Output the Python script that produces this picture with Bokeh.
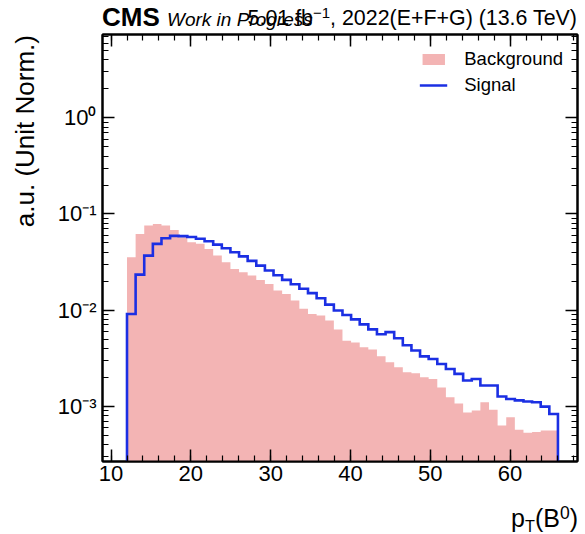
from bokeh.plotting import figure
from bokeh.models import (LinearAxis, LogAxis, SingleIntervalTicker, FixedTicker,
                          CustomJSTickFormatter, Range1d, Div)
from bokeh.layouts import column, row
from bokeh.embed import file_html
from bokeh.resources import INLINE

# ---------------- data ----------------
bin_lo = 12.0
bin_hi = 66.0
n_bins = 50

background = [0.0354, 0.0620, 0.0758, 0.0788, 0.0758, 0.0683, 0.0573, 0.0508, 0.0489, 0.0433,
              0.0369, 0.0314, 0.0268, 0.0247, 0.0229, 0.0206, 0.0187, 0.0160, 0.0147, 0.0126,
              0.0103, 0.0091, 0.0088, 0.0078, 0.0063, 0.0048, 0.0046, 0.0041, 0.0039, 0.0033,
              0.00286, 0.00254, 0.00225, 0.00220, 0.00200, 0.00192, 0.00157, 0.00124, 0.00107, 0.00086,
              0.00090, 0.00110, 0.00092, 0.00063, 0.00077, 0.00057, 0.00053, 0.00054, 0.00056, 0.00056]

signal = [0.0091, 0.0234, 0.0369, 0.0489, 0.0559, 0.0592, 0.0588, 0.0575, 0.0552, 0.0520,
          0.0480, 0.0440, 0.0400, 0.0362, 0.0325, 0.0290, 0.0258, 0.0230, 0.0206, 0.0186,
          0.0167, 0.0150, 0.0133, 0.0114, 0.0099, 0.0089, 0.0080, 0.0071, 0.0063, 0.0056,
          0.0059, 0.0051, 0.0043, 0.0038, 0.0033, 0.0031, 0.00275, 0.00244, 0.00217, 0.00185,
          0.00192, 0.00164, 0.00164, 0.00126, 0.00119, 0.00115, 0.00112, 0.00110, 0.00099, 0.00083]

x_ticks = [10, 20, 30, 40, 50, 60]
y_ticks = [1e-3, 1e-2, 1e-1, 1.0]

series_names = ["Background", "Signal"]
cms_text = "CMS"
exp_text = "Work in Progress"
lumi_main = "5.01 fb"
lumi_exp = "\u22121"
lumi_rest = ", 2022(E+F+G) (13.6 TeV)"
y_label = "a.u. (Unit Norm.)"

# ---------------- layout ----------------
X0, X1 = 8.93, 68.45
Y0, Y1 = 2.66e-4, 7.36
FONT = "Liberation Sans"
PINK = "#f3b4b4"
BLUE = "#1b2fe3"
FLOOR = 1e-9
YW = 40            # width of the y-label strip
W = 585 - YW       # width of the main column
H_HEAD, H_FOOT = 30, 33

width = (bin_hi - bin_lo) / n_bins
edges = [bin_lo + i * width for i in range(n_bins + 1)]

p = figure(frame_width=475, frame_height=427, width=None, height=None,
           x_range=Range1d(X0, X1), y_range=Range1d(Y0, Y1), y_axis_type="log",
           output_backend="svg", toolbar_location=None,
           min_border_left=102 - YW, min_border_top=4, min_border_bottom=39, min_border_right=0)
p.background_fill_color = "white"
p.border_fill_color = "white"
p.grid.visible = False
p.outline_line_color = "black"
p.outline_line_width = 2

# background histogram (filled step area)
p.varea_step(x=edges, y1=[FLOOR] * len(edges), y2=background + [background[-1]],
             step_mode="after", fill_color=PINK, legend_label=series_names[0])

# signal step histogram
xs = [edges[0]]
ys = [FLOOR]
for i, v in enumerate(signal):
    xs += [edges[i], edges[i + 1]]
    ys += [v, v]
xs.append(edges[-1])
ys.append(FLOOR)
p.line(xs, ys, line_color=BLUE, line_width=2.6, line_join="miter", legend_label=series_names[1])

# axes
minor_y = [m * 10 ** e for e in range(-4, 1) for m in range(2, 10)]
yfmt = CustomJSTickFormatter(code="""
const sup = {'-':'\u207b','0':'\u2070','1':'\u00b9','2':'\u00b2','3':'\u00b3','4':'\u2074','5':'\u2075','6':'\u2076','7':'\u2077','8':'\u2078','9':'\u2079'};
const e = Math.round(Math.log10(tick));
return '10' + String(e).split('').map(c => sup[c]).join('');
""")
blankfmt = CustomJSTickFormatter(code="return ' ';")


def style_axis(ax, labels=True):
    ax.axis_line_width = 2
    ax.axis_line_color = "black"
    ax.major_tick_in = 12
    ax.major_tick_out = 0
    ax.minor_tick_in = 6
    ax.minor_tick_out = 0
    ax.major_tick_line_width = 1.5
    ax.minor_tick_line_width = 1.2
    ax.major_tick_line_color = "black"
    ax.minor_tick_line_color = "black"
    if labels:
        ax.major_label_text_font = FONT
        ax.major_label_text_font_size = "22px"
        ax.major_label_text_color = "black"
    else:
        ax.formatter = blankfmt
        ax.major_label_text_font_size = "1px"
        ax.major_label_standoff = 0


xax = p.xaxis[0]
xax.ticker = SingleIntervalTicker(interval=10, num_minor_ticks=5)
style_axis(xax)
xax.major_label_standoff = 4

yax = p.yaxis[0]
yax.ticker = FixedTicker(ticks=y_ticks, minor_ticks=minor_y)
yax.formatter = yfmt
style_axis(yax)
yax.major_label_standoff = 6

top = LinearAxis(ticker=SingleIntervalTicker(interval=10, num_minor_ticks=5))
style_axis(top, labels=False)
p.add_layout(top, "above")
right = LogAxis(ticker=FixedTicker(ticks=y_ticks, minor_ticks=minor_y))
style_axis(right, labels=False)
p.add_layout(right, "right")

# legend
lg = p.legend[0]
lg.location = "top_right"
lg.border_line_color = None
lg.background_fill_alpha = 0
lg.label_text_font = FONT
lg.label_text_font_size = "18.5px"
lg.label_text_color = "black"
lg.glyph_width = 28
lg.glyph_height = 14
lg.label_height = 20
lg.label_standoff = 17
lg.spacing = 4
lg.margin = 14
lg.padding = 0

# header (experiment label and luminosity), x axis label and y axis label
base = f"position:absolute;line-height:1;font-family:'{FONT}';color:black;white-space:nowrap;"
sup = "font-size:0.7em;position:relative;top:-0.45em;vertical-align:0;"
sub = "font-size:0.65em;position:relative;top:0.28em;vertical-align:0;"
header_html = (
    f"<div style=\"position:relative;width:{W}px;height:{H_HEAD}px;\">"
    f"<span style=\"{base}left:{102 - YW}px;bottom:0px;font-size:26px;font-weight:bold;\">{cms_text}</span>"
    f"<span style=\"{base}left:{167 - YW}px;bottom:1px;font-size:19px;font-style:italic;\">{exp_text}</span>"
    f"<span style=\"{base}right:8px;bottom:1px;font-size:21.4px;\">{lumi_main}"
    f"<span style=\"{sup}\">{lumi_exp}</span>{lumi_rest}</span>"
    "</div>"
)
footer_html = (
    f"<div style=\"position:relative;width:{W}px;height:{H_FOOT}px;\">"
    f"<span style=\"{base}right:7px;bottom:2px;font-size:25px;\">p"
    f"<span style=\"{sub}\">T</span>(B<span style=\"{sup}\">0</span>)</span>"
    "</div>"
)
ylabel_html = (
    f"<div style=\"position:relative;width:{YW}px;height:500px;\">"
    f"<span style=\"{base}left:12px;top:35px;font-size:26px;"
    f"writing-mode:vertical-rl;transform:rotate(180deg);\">{y_label}</span>"
    "</div>"
)
header = Div(text=header_html, width=W, height=H_HEAD, margin=0)
footer = Div(text=footer_html, width=W, height=H_FOOT, margin=0)
ydiv = Div(text=ylabel_html, width=YW, height=500, margin=0)

layout = row(ydiv, column(header, p, footer, spacing=0), spacing=0)
open("out.html", "w").write(file_html(layout, INLINE))
